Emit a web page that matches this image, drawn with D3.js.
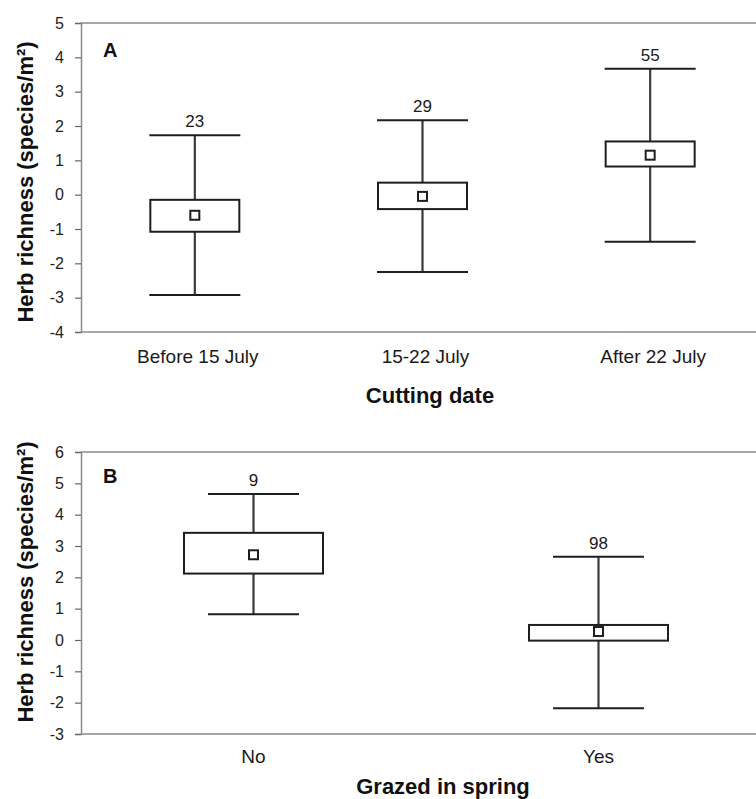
<!DOCTYPE html>
<html>
<head>
<meta charset="utf-8">
<script src="https://cdn.jsdelivr.net/npm/d3@7"></script>
<style>
  html, body { margin: 0; padding: 0; background: #fff; }
  svg { display: block; font-family: "Liberation Sans", Arial, sans-serif; }
</style>
</head>
<body>
<svg id="chart" width="756" height="799"></svg>
<script>
// ---- Panel A data ----
const catsA = ["Before 15 July", "15-22 July", "After 22 July"];
const nA = [23, 29, 55];
const lowA = [-2.92, -2.25, -1.37];
const q1A = [-1.08, -0.42, 0.82];
const meanA = [-0.6, -0.05, 1.15];
const q3A = [-0.15, 0.35, 1.55];
const highA = [1.73, 2.17, 3.67];
const ticksA = [5, 4, 3, 2, 1, 0, -1, -2, -3, -4];

// ---- Panel B data ----
const catsB = ["No", "Yes"];
const nB = [9, 98];
const lowB = [0.82, -2.18];
const q1B = [2.12, -0.02];
const meanB = [2.72, 0.27];
const q3B = [3.42, 0.48];
const highB = [4.66, 2.66];
const ticksB = [6, 5, 4, 3, 2, 1, 0, -1, -2, -3];

const svg = d3.select("#chart");

function panel(opt) {
  const g = svg.append("g");
  const y = d3.scaleLinear().domain(opt.domain).range([opt.bottom, opt.top]);
  const x = d3.scalePoint().domain(opt.cats).range([opt.left, opt.right]).padding(0.5);

  const frameColor = "#8a8a8a";
  g.append("line").attr("x1", opt.left).attr("x2", 756).attr("y1", opt.top).attr("y2", opt.top)
    .attr("stroke", frameColor).attr("stroke-width", 1.5);
  g.append("line").attr("x1", opt.left).attr("x2", 756).attr("y1", opt.bottom).attr("y2", opt.bottom)
    .attr("stroke", frameColor).attr("stroke-width", 1.5);

  const axis = d3.axisLeft(y).tickValues(opt.ticks).tickSize(6).tickPadding(11).tickFormat(d => String(d));
  const ax = g.append("g").attr("transform", `translate(${opt.left},0)`).call(axis);
  ax.select(".domain").attr("stroke", frameColor).attr("stroke-width", 1.5);
  ax.selectAll(".tick line").attr("stroke", "#666").attr("stroke-width", 1.2);
  ax.selectAll(".tick text").attr("font-size", 16).attr("fill", "#222")
    .attr("font-family", "Liberation Sans, Arial, sans-serif");

  g.selectAll(".xlab").data(opt.cats).join("text")
    .attr("x", d => x(d) + opt.labShift)
    .attr("y", opt.xlabY)
    .attr("text-anchor", "middle")
    .attr("font-size", 19)
    .attr("fill", "#1a1a1a")
    .text(d => d);

  g.append("text").attr("x", opt.xtitleX).attr("y", opt.xtitleY)
    .attr("text-anchor", "middle").attr("font-size", 22).attr("font-weight", "bold")
    .attr("fill", "#111").text(opt.xtitle);

  g.append("text")
    .attr("transform", `translate(33,${opt.ytitleY}) rotate(-90)`)
    .attr("text-anchor", "middle").attr("font-size", 22).attr("font-weight", "bold")
    .attr("fill", "#111").text("Herb richness (species/m²)");

  g.append("text").attr("x", 103).attr("y", opt.letterY)
    .attr("font-size", 20).attr("font-weight", "bold").attr("fill", "#111").text(opt.letter);

  const idx = d3.range(opt.cats.length);
  const bw = opt.boxW, cw = opt.capW;
  const lineCol = "#1e1e1e";

  g.selectAll(".whisk").data(idx).join("line")
    .attr("x1", i => x(opt.cats[i])).attr("x2", i => x(opt.cats[i]))
    .attr("y1", i => y(opt.low[i])).attr("y2", i => y(opt.high[i]))
    .attr("stroke", "#3a3a3a").attr("stroke-width", 2.2);
  g.selectAll(".capH").data(idx).join("line")
    .attr("x1", i => x(opt.cats[i]) - cw / 2).attr("x2", i => x(opt.cats[i]) + cw / 2)
    .attr("y1", i => y(opt.high[i])).attr("y2", i => y(opt.high[i]))
    .attr("stroke", lineCol).attr("stroke-width", 2);
  g.selectAll(".capL").data(idx).join("line")
    .attr("x1", i => x(opt.cats[i]) - cw / 2).attr("x2", i => x(opt.cats[i]) + cw / 2)
    .attr("y1", i => y(opt.low[i])).attr("y2", i => y(opt.low[i]))
    .attr("stroke", lineCol).attr("stroke-width", 2);
  g.selectAll(".box").data(idx).join("rect")
    .attr("x", i => x(opt.cats[i]) - bw / 2)
    .attr("width", bw)
    .attr("y", i => y(opt.q3[i]))
    .attr("height", i => y(opt.q1[i]) - y(opt.q3[i]))
    .attr("fill", "#fff").attr("stroke", lineCol).attr("stroke-width", 2);
  const ms = 9;
  g.selectAll(".mean").data(idx).join("rect")
    .attr("x", i => x(opt.cats[i]) - ms / 2)
    .attr("y", i => y(opt.mean[i]) - ms / 2)
    .attr("width", ms).attr("height", ms)
    .attr("fill", "#fff").attr("stroke", lineCol).attr("stroke-width", 2);
  g.selectAll(".nlab").data(idx).join("text")
    .attr("x", i => x(opt.cats[i]))
    .attr("y", i => y(opt.high[i]) - 8)
    .attr("text-anchor", "middle").attr("font-size", 17).attr("fill", "#1a1a1a")
    .text(i => opt.n[i]);
}

panel({
  cats: catsA, n: nA, low: lowA, q1: q1A, mean: meanA, q3: q3A, high: highA, ticks: ticksA,
  domain: [-4, 5], top: 23, bottom: 332, left: 81, right: 764,
  boxW: 89, capW: 91, xlabY: 363, labShift: 3, xtitle: "Cutting date", xtitleX: 430, xtitleY: 403,
  ytitleY: 182, letter: "A", letterY: 57
});

panel({
  cats: catsB, n: nB, low: lowB, q1: q1B, mean: meanB, q3: q3B, high: highB, ticks: ticksB,
  domain: [-3, 6], top: 452, bottom: 734, left: 81, right: 771,
  boxW: 139, capW: 91, xlabY: 763, labShift: 0, xtitle: "Grazed in spring", xtitleX: 443, xtitleY: 794,
  ytitleY: 582, letter: "B", letterY: 483
});
</script>
</body>
</html>
